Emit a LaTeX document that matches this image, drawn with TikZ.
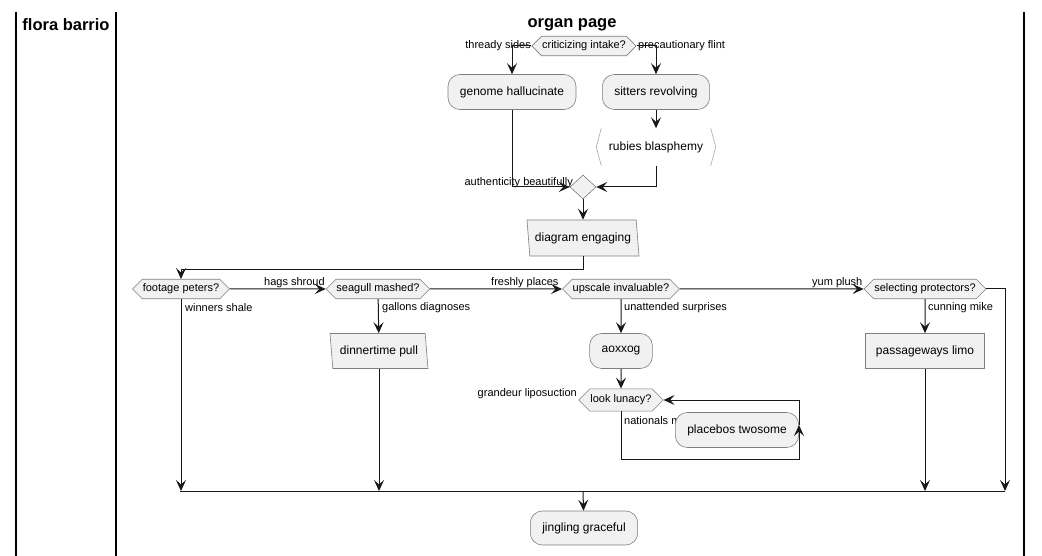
\documentclass[tikz,border=0pt]{standalone}
\usepackage{fontspec}
\setmainfont{Liberation Sans}
\usetikzlibrary{shapes.geometric,shapes.symbols,arrows.meta}

\definecolor{actfill}{HTML}{F1F1F1}
\definecolor{actline}{HTML}{7E7E7E}
\definecolor{flowline}{HTML}{181818}
\definecolor{bracket}{HTML}{A8A8A8}

\tikzset{
  act/.style={draw=actline, fill=actfill, line width=0.6pt, rounded corners=12pt,
    minimum height=35pt, inner xsep=12pt, font=\fontsize{12}{14}\selectfont},
  plainbox/.style={draw=actline, fill=actfill, line width=0.6pt,
    minimum height=35pt, inner xsep=10.5pt, font=\fontsize{12}{14}\selectfont},
  iobox/.style={trapezium, trapezium left angle=99, trapezium right angle=81,
    trapezium stretches body, draw=actline, fill=actfill, line width=0.6pt,
    minimum height=36pt, inner xsep=2pt, font=\fontsize{12}{14}\selectfont},
  cond/.style={signal, signal to=west and east, draw=actline, fill=actfill,
    line width=0.6pt, inner xsep=0.5pt, inner ysep=4.6pt,
    font=\fontsize{11}{13}\selectfont},
  merge/.style={diamond, draw=actline, fill=actfill, line width=0.6pt,
    minimum width=26pt, minimum height=24pt, inner sep=0pt},
  lbl/.style={inner sep=0pt, font=\fontsize{11}{13}\selectfont},
  lanetitle/.style={inner sep=0pt, font=\fontsize{16.5}{19}\selectfont\bfseries},
  flow/.style={draw=flowline, line width=1pt,
    -{Stealth[length=11pt, width=10pt, inset=4.5pt]}},
  lane/.style={line width=1.4pt}
}

\begin{document}
\begin{tikzpicture}[x=1pt, y=-1pt]
\useasboundingbox (0,0) rectangle (1042,556);

% swimlanes
\draw[lane] (16,12) -- (16,556);
\draw[lane] (116,12) -- (116,556);
\draw[lane] (1024,12) -- (1024,556);
\node[lanetitle] (flora) at (66,25) {flora barrio};
\node[lanetitle] (organ) at (572,25) {organ page};

% first fork
\node[cond] (crit) at (584,46) {criticizing intake?};
\node[act] (genome) at (512,92) {genome hallucinate};
\node[act] (sitters) at (656,92) {sitters revolving};
\node[inner sep=0pt, minimum width=119pt, minimum height=37pt,
  font=\fontsize{12}{14}\selectfont] (rubies) at (656,147) {rubies blasphemy};
\draw[bracket, line width=0.6pt] ([xshift=5pt]rubies.north west) -- (rubies.west)
  -- ([xshift=5pt]rubies.south west);
\draw[bracket, line width=0.6pt] ([xshift=-5pt]rubies.north east) -- (rubies.east)
  -- ([xshift=-5pt]rubies.south east);
\node[merge] (join) at (583,187) {};
\node[iobox, minimum width=112pt] (diagram) at (583,238) {diagram engaging};

\node[lbl, anchor=east] (threadylbl) at (531,46) {thready sides};
\node[lbl, anchor=west] (flintlbl) at (638,46) {precautionary flint};
\node[lbl, anchor=east] (authlbl) at (573,183) {authenticity beautifully};

\draw[flow] (crit.west) -| (genome.north);
\draw[flow] (crit.east) -| (sitters.north);
\draw[flow] (sitters) -- (rubies);
\draw[flow] (genome.south) |- (join.west);
\draw[flow] (rubies.south) |- (join.east);
\draw[flow] (join) -- (diagram);

% second row of conditions
\node[cond] (footage) at (181,289) {footage peters?};
\node[cond] (seagull) at (378,289) {seagull mashed?};
\node[cond] (upscale) at (621,289) {upscale invaluable?};
\node[cond] (selecting) at (925,289) {selecting protectors?};
\node[iobox, minimum width=98pt, minimum height=35pt] (dinner) at (379,351) {dinnertime pull};
\node[act] (aoxxog) at (621,351) {aoxxog};
\node[plainbox] (passage) at (925,351) {passageways limo};
\node[cond, inner ysep=6pt] (look) at (621,400) {look lunacy?};
\node[lbl, anchor=west] (nationalslbl) at (624,421) {nationals m};
\node[act] (placebos) at (737,430) {placebos twosome};
\node[act, minimum height=34pt] (jingling) at (584,528) {jingling graceful};

\node[lbl, anchor=west] (winnerslbl) at (185,308) {winners shale};
\node[lbl, anchor=west] (hagslbl) at (264,283) {hags shroud};
\node[lbl, anchor=west] (gallonslbl) at (382,308) {gallons diagnoses};
\node[lbl, anchor=west] (freshlbl) at (491,283) {freshly places};
\node[lbl, anchor=west] (unattlbl) at (624,308) {unattended surprises};
\node[lbl, anchor=west] (yumlbl) at (812,283) {yum plush};
\node[lbl, anchor=west] (cunninglbl) at (928,308) {cunning mike};
\node[lbl, anchor=east] (grandeurlbl) at (577,394) {grandeur liposuction};

\coordinate (loopb) at (799,459);
\coordinate (loopc) at (799,425);
\coordinate (mergeL) at (180,491);
\coordinate (mergeR) at (1005,491);
\coordinate (mergeC) at (583,491);

\draw[flow] (diagram.south) -- ++(0,13) -| (footage.north);
\draw[flow] (footage) -- (seagull);
\draw[flow] (seagull) -- (upscale);
\draw[flow] (upscale) -- (selecting);
\draw[flow] (seagull) -- (dinner);
\draw[flow] (upscale) -- (aoxxog);
\draw[flow] (selecting) -- (passage);
\draw[flow] (aoxxog) -- (look);
\draw[flow] (look.south) |- (loopb) -- (loopc);
\draw[flow] (loopc) |- (look.east);

% merge bar
\draw[flow] (footage.south) -- (footage.south |- mergeL);
\draw[flow] (dinner.south) -- (dinner.south |- mergeL);
\draw[flow] (passage.south) -- (passage.south |- mergeL);
\draw[flow] (selecting.east) -| (mergeR);
\draw[flowline, line width=1pt] (mergeL) -- (mergeR);
\draw[flow] (mergeC) -- (jingling);

\end{tikzpicture}
\end{document}
